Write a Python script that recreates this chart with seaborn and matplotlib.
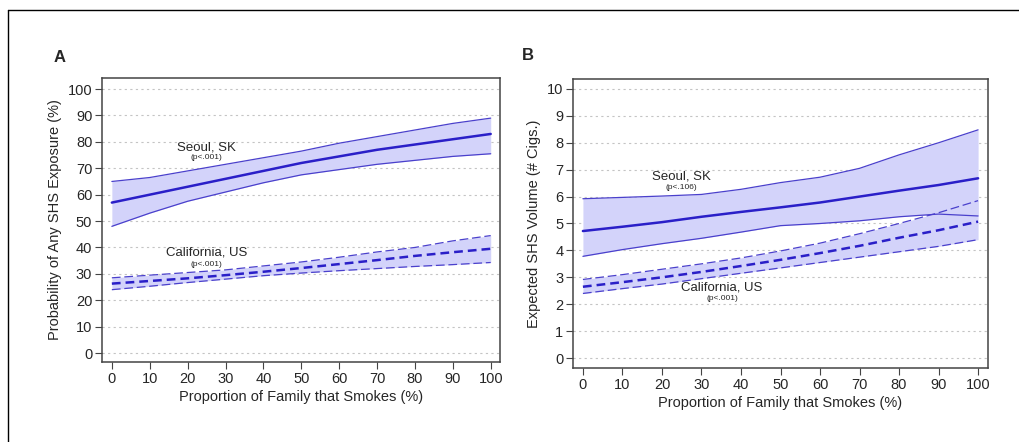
import numpy as np
import pandas as pd
import matplotlib
matplotlib.use("Agg")
import matplotlib.pyplot as plt
import seaborn as sns

# ---- data ----
x = [0, 10, 20, 30, 40, 50, 60, 70, 80, 90, 100]

a_seoul_mean = [57, 60, 63, 66, 69, 72, 74.5, 77, 79, 81, 83]
a_seoul_hi = [65, 66.5, 69, 71.5, 74, 76.5, 79.5, 82, 84.5, 87, 89]
a_seoul_lo = [48, 53, 57.5, 61, 64.5, 67.5, 69.5, 71.5, 73, 74.5, 75.5]
a_cal_mean = [26.3, 27.3, 28.3, 29.5, 30.8, 32.2, 33.7, 35.2, 36.8, 38.2, 39.5]
a_cal_hi = [28.5, 29.5, 30.5, 31.5, 33, 34.5, 36.3, 38.3, 40, 42.5, 44.5]
a_cal_lo = [24, 25.3, 26.7, 28, 29.3, 30.3, 31.2, 32, 32.8, 33.5, 34.3]

b_seoul_mean = [4.72, 4.88, 5.05, 5.25, 5.43, 5.6, 5.78, 6.0, 6.22, 6.43, 6.68]
b_seoul_hi = [5.92, 5.97, 6.02, 6.08, 6.27, 6.52, 6.72, 7.05, 7.55, 8.0, 8.48]
b_seoul_lo = [3.78, 4.03, 4.25, 4.45, 4.68, 4.92, 5.0, 5.1, 5.25, 5.35, 5.28]
b_cal_mean = [2.65, 2.82, 3.0, 3.2, 3.42, 3.65, 3.9, 4.17, 4.47, 4.75, 5.07]
b_cal_hi = [2.92, 3.1, 3.3, 3.5, 3.72, 3.98, 4.27, 4.62, 5.0, 5.4, 5.85]
b_cal_lo = [2.4, 2.58, 2.75, 2.95, 3.15, 3.35, 3.55, 3.75, 3.95, 4.15, 4.4]

regions = ["Seoul, SK", "California, US"]
x_label = "Proportion of Family that Smokes (%)"
a_ylabel = "Probability of Any SHS Exposure (%)"
b_ylabel = "Expected SHS Volume (# Cigs.)"

LINE = "#2a1fc8"
EDGE = "#4a40cc"
FILL = "#d3d3fa"

sns.set_style("ticks")
plt.rcParams["font.family"] = ["Liberation Sans", "DejaVu Sans"]

fig = plt.figure(figsize=(10.2, 4.42), dpi=100)
axA = fig.add_axes([0.100, 0.181, 0.390, 0.6425])
axB = fig.add_axes([0.5618, 0.1674, 0.4068, 0.6539])


def make_df(sm, cm):
    return pd.DataFrame({
        "x": x + x,
        "y": sm + cm,
        "region": [regions[0]] * len(x) + [regions[1]] * len(x),
    })


def draw(ax, sm, shi, slo, cm, chi, clo):
    ax.fill_between(x, slo, shi, color=FILL, lw=0, zorder=1)
    ax.fill_between(x, clo, chi, color=FILL, lw=0, zorder=1)
    ax.plot(x, shi, color=EDGE, lw=0.9, zorder=2)
    ax.plot(x, slo, color=EDGE, lw=0.9, zorder=2)
    ax.plot(x, chi, color=EDGE, lw=0.9, ls=(0, (7, 3)), zorder=2)
    ax.plot(x, clo, color=EDGE, lw=0.9, ls=(0, (7, 3)), zorder=2)
    df = make_df(sm, cm)
    sns.lineplot(data=df, x="x", y="y", style="region", ax=ax, color=LINE,
                 lw=1.8, legend=False, dashes={regions[0]: "", regions[1]: (3.5, 2)},
                 zorder=3)


draw(axA, a_seoul_mean, a_seoul_hi, a_seoul_lo, a_cal_mean, a_cal_hi, a_cal_lo)
draw(axB, b_seoul_mean, b_seoul_hi, b_seoul_lo, b_cal_mean, b_cal_hi, b_cal_lo)

axA.set_xlim(-2.6, 102.4)
axA.set_ylim(-3.4, 104.2)
axA.set_yticks(range(0, 101, 10))
axB.set_xlim(-2.5, 102.5)
axB.set_ylim(-0.37, 10.37)
axB.set_yticks(range(0, 11, 1))

for ax, yl in [(axA, a_ylabel), (axB, b_ylabel)]:
    ax.set_xticks(range(0, 101, 10))
    ax.set_xlabel(x_label, fontsize=10.5, labelpad=3)
    ax.set_ylabel(yl, fontsize=10.5, labelpad=4)
    ax.tick_params(axis="both", labelsize=10.5, length=5, width=0.8,
                   color="#444444", pad=2)
    ax.grid(axis="y", ls=(0, (2, 3)), color="#c4c4c4", lw=0.8, zorder=0)
    ax.set_axisbelow(True)
    for s in ax.spines.values():
        s.set_visible(True)
        s.set_color("#444444")
        s.set_linewidth(1.1)

axA.text(25, 78, "Seoul, SK", ha="center", va="center", fontsize=9.5)
axA.text(25, 74, "(p<.001)", ha="center", va="center", fontsize=6)
axA.text(25, 38, "California, US", ha="center", va="center", fontsize=9.5)
axA.text(25, 33.7, "(p<.001)", ha="center", va="center", fontsize=6)

axB.text(25, 6.73, "Seoul, SK", ha="center", va="center", fontsize=9.5)
axB.text(25, 6.32, "(p<.106)", ha="center", va="center", fontsize=6)
axB.text(35.2, 2.64, "California, US", ha="center", va="center", fontsize=9.5)
axB.text(35.2, 2.23, "(p<.001)", ha="center", va="center", fontsize=6)

fig.text(0.0585, 0.87, "A", fontsize=12, fontweight="bold", ha="center", va="center")
fig.text(0.518, 0.875, "B", fontsize=12, fontweight="bold", ha="center", va="center")

# outer frame (top and left edges)
fig.add_artist(plt.Line2D([0.0078, 0.0078], [0.0, 0.977], color="black", lw=1.0,
                          transform=fig.transFigure))
fig.add_artist(plt.Line2D([0.0078, 1.0], [0.977, 0.977], color="black", lw=1.0,
                          transform=fig.transFigure))

fig.savefig("out.png", dpi=100)
